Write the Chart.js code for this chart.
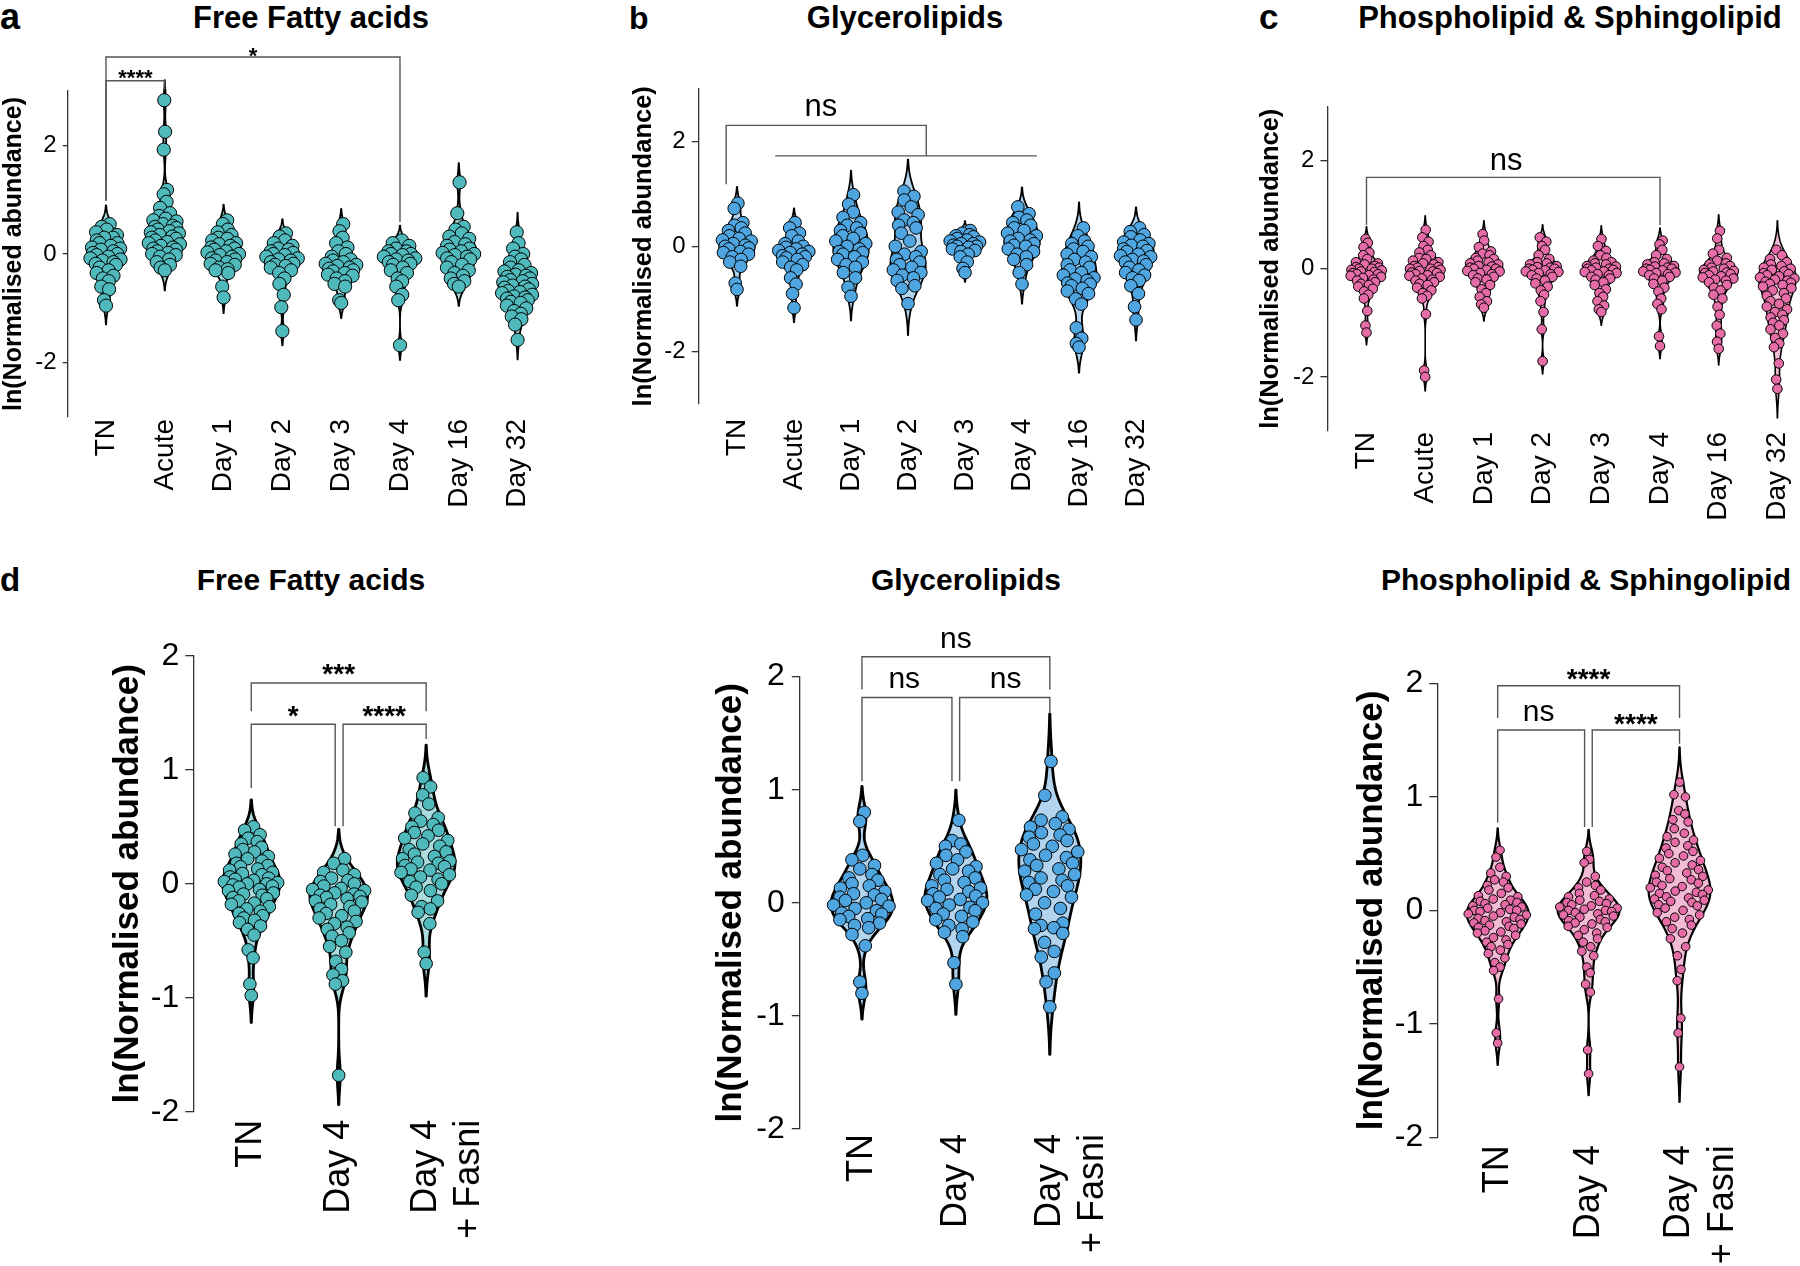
<!DOCTYPE html>
<html>
<head>
<meta charset="utf-8">
<script src="https://cdn.jsdelivr.net/npm/chart.js@4.4.1/dist/chart.umd.min.js"></script>
<style>
html,body{margin:0;padding:0;background:#fff;}
body{width:1800px;height:1266px;position:relative;overflow:hidden;font-family:'Liberation Sans',Arial,Helvetica,sans-serif;}
.txt{position:absolute;font-weight:bold;color:#000;white-space:nowrap;line-height:1;}
canvas{position:absolute;}
</style>
</head>
<body>
<script>
// ---------- categories & tick labels ----------
const catsTime = ['TN','Acute','Day 1','Day 2','Day 3','Day 4','Day 16','Day 32'];
const catsFasn = ['TN','Day 4',['Day 4','+ Fasni']];
const ticksTime = [-2,0,2];
const ticksFasn = [-2,-1,0,1,2];
const yTitle = 'ln(Normalised abundance)';

// ---------- a: Free Fatty acids (time course) ----------
const ffa_TN = [0.55,0.5,0.45,0.4,0.35,0.3,0.3,0.25,0.2,0.2,0.15,0.12,0.1,0.08,0.05,0.02,0.0,-0.02,-0.05,-0.08,-0.1,-0.12,-0.15,-0.18,-0.2,-0.25,-0.3,-0.35,-0.4,-0.45,-0.5,-0.6,-0.65,-0.85,-0.95];
const ffa_Acute = [2.83,2.25,1.92,1.18,1.1,0.96,0.85,0.75,0.7,0.65,0.62,0.6,0.55,0.52,0.5,0.48,0.45,0.42,0.4,0.38,0.35,0.32,0.3,0.28,0.25,0.22,0.2,0.18,0.15,0.12,0.1,0.08,0.05,0.02,0.0,-0.02,-0.05,-0.1,-0.15,-0.2,-0.25,-0.3];
const ffa_D1 = [0.62,0.55,0.45,0.4,0.35,0.3,0.28,0.25,0.2,0.18,0.15,0.12,0.1,0.08,0.05,0.03,0.0,-0.02,-0.05,-0.08,-0.1,-0.12,-0.15,-0.18,-0.2,-0.25,-0.28,-0.3,-0.35,-0.6,-0.8];
const ffa_D2 = [0.38,0.32,0.25,0.2,0.15,0.1,0.08,0.05,0.02,0.0,-0.02,-0.05,-0.08,-0.1,-0.12,-0.15,-0.18,-0.2,-0.22,-0.25,-0.3,-0.35,-0.45,-0.55,-0.75,-0.98,-1.42];
const ffa_D3 = [0.55,0.42,0.3,0.2,0.12,0.05,0.0,-0.05,-0.1,-0.12,-0.15,-0.18,-0.2,-0.22,-0.25,-0.27,-0.3,-0.32,-0.35,-0.38,-0.4,-0.45,-0.5,-0.55,-0.6,-0.85,-0.9];
const ffa_D4 = [0.25,0.2,0.15,0.1,0.05,0.05,0.0,0.0,-0.02,-0.05,-0.08,-0.1,-0.12,-0.15,-0.18,-0.2,-0.25,-0.3,-0.35,-0.45,-0.5,-0.6,-0.75,-0.85,-1.68];
const ffa_D16 = [1.32,0.75,0.5,0.45,0.38,0.32,0.28,0.22,0.18,0.15,0.1,0.08,0.05,0.02,0.0,-0.02,-0.05,-0.08,-0.1,-0.15,-0.2,-0.25,-0.3,-0.35,-0.4,-0.45,-0.5,-0.55,-0.6];
const ffa_D32 = [0.4,0.2,0.1,0.0,-0.05,-0.1,-0.15,-0.2,-0.25,-0.3,-0.32,-0.35,-0.38,-0.4,-0.42,-0.45,-0.48,-0.5,-0.52,-0.55,-0.58,-0.6,-0.62,-0.65,-0.68,-0.7,-0.72,-0.75,-0.78,-0.8,-0.82,-0.85,-0.88,-0.9,-0.95,-1.0,-1.05,-1.1,-1.15,-1.2,-1.3,-1.58];

// ---------- b: Glycerolipids (time course) ----------
const gl_TN = [0.82,0.72,0.45,0.4,0.35,0.3,0.25,0.2,0.15,0.12,0.1,0.05,0.02,0.0,-0.03,-0.05,-0.1,-0.12,-0.15,-0.2,-0.25,-0.3,-0.38,-0.7,-0.82];
const gl_Acute = [0.45,0.35,0.25,0.2,0.1,0.05,0.0,-0.02,-0.05,-0.08,-0.1,-0.12,-0.15,-0.18,-0.2,-0.22,-0.25,-0.3,-0.35,-0.4,-0.45,-0.6,-0.72,-0.9,-1.17];
const gl_D1 = [0.98,0.8,0.65,0.55,0.45,0.4,0.35,0.3,0.25,0.2,0.15,0.1,0.05,0.0,-0.05,-0.1,-0.12,-0.15,-0.2,-0.25,-0.3,-0.35,-0.4,-0.5,-0.6,-0.78,-0.95];
const gl_D2 = [1.05,0.95,0.88,0.75,0.65,0.6,0.5,0.45,0.4,0.35,0.25,0.1,0.0,-0.1,-0.15,-0.2,-0.25,-0.3,-0.35,-0.4,-0.45,-0.5,-0.55,-0.6,-0.65,-0.75,-0.8,-1.09];
const gl_D3 = [0.3,0.25,0.22,0.2,0.18,0.15,0.12,0.1,0.08,0.05,0.05,0.02,0.0,0.0,-0.02,-0.05,-0.08,-0.1,-0.15,-0.2,-0.3,-0.42,-0.5];
const gl_D4 = [0.75,0.62,0.55,0.5,0.45,0.4,0.35,0.3,0.25,0.2,0.15,0.12,0.1,0.05,0.02,0.0,-0.05,-0.1,-0.15,-0.2,-0.25,-0.35,-0.5,-0.72];
const gl_D16 = [0.35,0.2,0.1,0.05,0.0,-0.05,-0.1,-0.15,-0.2,-0.25,-0.3,-0.35,-0.4,-0.45,-0.5,-0.55,-0.6,-0.62,-0.65,-0.7,-0.72,-0.75,-0.8,-0.85,-0.9,-1.0,-1.1,-1.55,-1.75,-1.85,-1.92];
const gl_D32 = [0.35,0.28,0.22,0.18,0.12,0.08,0.05,0.02,0.0,-0.05,-0.08,-0.1,-0.15,-0.18,-0.2,-0.25,-0.28,-0.3,-0.35,-0.4,-0.45,-0.5,-0.55,-0.6,-0.65,-0.75,-0.9,-1.15,-1.4];

// ---------- c: Phospholipid & Sphingolipid (time course) ----------
const pl_TN = [0.55,0.48,0.4,0.3,0.25,0.18,0.12,0.1,0.08,0.05,0.03,0.02,0.0,0.0,-0.02,-0.03,-0.05,-0.06,-0.08,-0.1,-0.1,-0.12,-0.13,-0.15,-0.17,-0.2,-0.22,-0.25,-0.28,-0.3,-0.33,-0.37,-0.42,-0.48,-0.55,-0.78,-1.05,-1.18];
const pl_Acute = [0.72,0.58,0.5,0.42,0.35,0.3,0.25,0.2,0.18,0.15,0.12,0.1,0.08,0.05,0.03,0.02,0.0,0.0,-0.02,-0.04,-0.05,-0.07,-0.08,-0.1,-0.12,-0.13,-0.15,-0.18,-0.2,-0.22,-0.25,-0.28,-0.3,-0.35,-0.4,-0.45,-0.5,-0.55,-0.84,-1.88,-2.0];
const pl_D1 = [0.64,0.52,0.4,0.32,0.28,0.25,0.2,0.18,0.15,0.12,0.1,0.08,0.05,0.04,0.02,0.0,0.0,-0.02,-0.04,-0.05,-0.08,-0.1,-0.12,-0.15,-0.18,-0.2,-0.25,-0.3,-0.38,-0.45,-0.52,-0.6,-0.66,-0.72];
const pl_D2 = [0.58,0.5,0.42,0.35,0.25,0.18,0.12,0.1,0.08,0.05,0.03,0.02,0.0,0.0,-0.02,-0.03,-0.05,-0.06,-0.08,-0.1,-0.12,-0.15,-0.18,-0.22,-0.27,-0.33,-0.4,-0.48,-0.6,-0.8,-1.12,-1.71];
const pl_D3 = [0.55,0.42,0.33,0.25,0.2,0.15,0.12,0.1,0.08,0.05,0.04,0.02,0.0,0.0,-0.02,-0.03,-0.05,-0.06,-0.08,-0.1,-0.12,-0.15,-0.18,-0.2,-0.25,-0.3,-0.38,-0.45,-0.52,-0.6,-0.68,-0.75,-0.8];
const pl_D4 = [0.52,0.45,0.35,0.25,0.18,0.12,0.1,0.08,0.05,0.04,0.02,0.0,0.0,-0.02,-0.03,-0.05,-0.07,-0.08,-0.1,-0.12,-0.15,-0.18,-0.22,-0.28,-0.35,-0.42,-0.55,-0.65,-0.75,-1.25,-1.43];
const pl_D16 = [0.7,0.56,0.35,0.28,0.2,0.15,0.1,0.08,0.05,0.02,0.0,-0.02,-0.04,-0.05,-0.07,-0.08,-0.1,-0.12,-0.14,-0.16,-0.18,-0.2,-0.22,-0.25,-0.3,-0.35,-0.4,-0.48,-0.55,-0.7,-0.85,-1.05,-1.2,-1.35,-1.48];
const pl_D32 = [0.35,0.25,0.18,0.12,0.08,0.05,0.02,0.0,-0.02,-0.05,-0.08,-0.1,-0.12,-0.14,-0.16,-0.18,-0.2,-0.22,-0.24,-0.26,-0.28,-0.3,-0.33,-0.36,-0.4,-0.45,-0.5,-0.55,-0.6,-0.65,-0.7,-0.75,-0.8,-0.85,-0.9,-0.95,-1.0,-1.05,-1.12,-1.2,-1.28,-1.38,-1.45,-1.75,-2.05,-2.22];

// ---------- d: Fasn inhibition ----------
const ffaD_TN = [0.5,0.47,0.43,0.4,0.37,0.35,0.32,0.3,0.28,0.26,0.24,0.22,0.2,0.18,0.16,0.15,0.13,0.12,0.1,0.09,0.08,0.06,0.05,0.04,0.03,0.02,0.01,0.0,0.0,-0.01,-0.02,-0.03,-0.05,-0.06,-0.08,-0.09,-0.1,-0.12,-0.13,-0.15,-0.17,-0.18,-0.2,-0.22,-0.24,-0.26,-0.28,-0.3,-0.32,-0.34,-0.37,-0.4,-0.45,-0.58,-0.65,-0.88,-0.98];
const ffaD_D4 = [0.22,0.18,0.12,0.1,0.08,0.05,0.03,0.02,0.0,-0.02,-0.04,-0.05,-0.06,-0.08,-0.09,-0.1,-0.11,-0.12,-0.13,-0.15,-0.16,-0.18,-0.2,-0.22,-0.24,-0.26,-0.28,-0.3,-0.33,-0.35,-0.38,-0.4,-0.43,-0.46,-0.5,-0.55,-0.6,-0.68,-0.75,-0.8,-0.85,-0.88,-1.68];
const ffaD_Fasni = [0.93,0.85,0.78,0.7,0.62,0.58,0.55,0.52,0.5,0.47,0.45,0.42,0.4,0.38,0.35,0.33,0.3,0.28,0.26,0.24,0.22,0.2,0.19,0.18,0.16,0.15,0.13,0.12,0.1,0.08,0.06,0.04,0.02,0.0,-0.03,-0.06,-0.1,-0.15,-0.2,-0.22,-0.25,-0.35,-0.6,-0.7];
const glD_TN = [0.8,0.72,0.42,0.38,0.33,0.3,0.25,0.22,0.2,0.17,0.15,0.13,0.1,0.08,0.07,0.05,0.03,0.02,0.0,-0.02,-0.03,-0.05,-0.07,-0.09,-0.1,-0.12,-0.14,-0.15,-0.18,-0.2,-0.22,-0.28,-0.38,-0.7,-0.8];
const glD_D4 = [0.73,0.55,0.52,0.5,0.45,0.42,0.38,0.35,0.32,0.3,0.28,0.25,0.22,0.2,0.18,0.15,0.13,0.12,0.1,0.08,0.06,0.05,0.03,0.02,0.0,-0.02,-0.04,-0.05,-0.07,-0.1,-0.12,-0.15,-0.17,-0.2,-0.23,-0.26,-0.3,-0.53,-0.72];
const glD_Fasni = [1.25,0.95,0.76,0.73,0.7,0.67,0.65,0.62,0.6,0.58,0.55,0.52,0.5,0.47,0.45,0.42,0.4,0.38,0.35,0.33,0.3,0.28,0.25,0.22,0.2,0.18,0.15,0.12,0.1,0.07,0.05,0.0,-0.05,-0.1,-0.18,-0.2,-0.22,-0.23,-0.27,-0.35,-0.43,-0.48,-0.62,-0.7,-0.92];
const plD_TN = [0.53,0.47,0.38,0.33,0.3,0.27,0.25,0.22,0.2,0.18,0.15,0.13,0.12,0.1,0.09,0.08,0.07,0.06,0.05,0.04,0.03,0.02,0.01,0.0,0.0,-0.01,-0.02,-0.03,-0.04,-0.05,-0.06,-0.07,-0.08,-0.09,-0.1,-0.11,-0.12,-0.13,-0.14,-0.15,-0.16,-0.18,-0.19,-0.2,-0.22,-0.24,-0.26,-0.28,-0.3,-0.32,-0.35,-0.38,-0.42,-0.46,-0.5,-0.53,-0.78,-1.08,-1.17];
const plD_D4 = [0.52,0.45,0.42,0.3,0.25,0.22,0.2,0.18,0.15,0.13,0.12,0.1,0.09,0.08,0.07,0.06,0.05,0.04,0.03,0.02,0.01,0.0,0.0,-0.01,-0.02,-0.03,-0.04,-0.05,-0.06,-0.08,-0.09,-0.1,-0.11,-0.12,-0.14,-0.15,-0.17,-0.2,-0.22,-0.25,-0.28,-0.32,-0.36,-0.4,-0.5,-0.55,-0.65,-0.72,-1.23,-1.44];
const plD_Fasni = [1.13,1.02,1.0,0.88,0.85,0.8,0.78,0.72,0.68,0.65,0.62,0.6,0.57,0.55,0.52,0.5,0.48,0.46,0.44,0.42,0.4,0.38,0.36,0.35,0.33,0.31,0.3,0.28,0.27,0.25,0.24,0.22,0.21,0.2,0.18,0.17,0.16,0.15,0.14,0.12,0.11,0.1,0.09,0.08,0.07,0.05,0.04,0.02,0.0,-0.02,-0.04,-0.06,-0.08,-0.1,-0.13,-0.16,-0.2,-0.25,-0.32,-0.4,-0.52,-0.62,-0.95,-1.08,-1.38];

// ---------- colours ----------
const TEAL = '#4fb9bc', TEAL_L = '#abdcdd';
const BLUE = '#4ea5df', BLUE_L = '#b3d4ef';
const PINK = '#e66ca8', PINK_L = '#f2bcd5';
const FONT = "'Liberation Sans', Arial, Helvetica, sans-serif";

// ---------- panels ----------
const panels = [
  {cats: catsTime, groups: [ffa_TN,ffa_Acute,ffa_D1,ffa_D2,ffa_D3,ffa_D4,ffa_D16,ffa_D32], ticks: ticksTime, ymin:-3, ymax:3,
   color: TEAL, fill: TEAL_L, box:{left:0, top:0, w:563, h:530}, pt:91, pr:10, yW:67.7, xH:113, xmin:-0.651, xmax:7.602, unitPx:58.8,
   r:6.6, halfW:0.31, lw:1.8, tickFont:24, tickLen:5, tickPad:6, xFont:28, xPad:-6, yTitleSize:25, yTitlePad:2,
   brackets:[[0,1,3.19,0.98,3.03],[0,5,3.625,0.98,0.59]],
   notes:[{x:0.5,y:3.11,t:'****',f:'bold 22px '+FONT},{x:2.5,y:3.515,t:'*',f:'bold 22px '+FONT}]},
  {cats: catsTime, groups: [gl_TN,gl_Acute,gl_D1,gl_D2,gl_D3,gl_D4,gl_D16,gl_D32], ticks: ticksTime, ymin:-3, ymax:3,
   color: BLUE, fill: BLUE_L, box:{left:620, top:0, w:560, h:530}, pt:88.6, pr:10, yW:78.7, xH:126, xmin:-0.672, xmax:7.596, unitPx:57,
   r:6.3, halfW:0.31, lw:1.8, tickFont:24, tickLen:7, tickPad:6, xFont:28, xPad:6.7, yTitleSize:25.5, yTitlePad:11.25,
   brackets:[[-0.19,3.32,2.30,1.18,1.72],[0.67,5.26,1.72,1.72,1.72]],
   notes:[{x:1.47,y:2.475,t:'ns',f:'31px '+FONT}]},
  {cats: catsTime, groups: [pl_TN,pl_Acute,pl_D1,pl_D2,pl_D3,pl_D4,pl_D16,pl_D32], ticks: ticksTime, ymin:-3, ymax:3,
   color: PINK, fill: PINK_L, box:{left:1240, top:0, w:580, h:530}, pt:106.5, pr:20, yW:87.4, xH:99, xmin:-0.666, xmax:7.385, unitPx:58.7,
   r:4.8, halfW:0.32, lw:1.6, tickFont:24, tickLen:7, tickPad:6, xFont:28, xPad:-7, yTitleSize:25.5, yTitlePad:18.25,
   brackets:[[0,5,1.69,0.81,0.81]],
   notes:[{x:2.38,y:1.825,t:'ns',f:'31px '+FONT}]},
  {cats: catsFasn, groups: [ffaD_TN,ffaD_D4,ffaD_Fasni], ticks: ticksFasn, ymin:-2, ymax:2,
   color: TEAL, fill: TEAL_L, box:{left:60, top:540, w:460, h:726}, pt:115.8, pr:40, yW:133.3, xH:154.2, xmin:-0.663, xmax:2.61, unitPx:87.6,
   r:6.3, halfW:0.33, lw:2.8, tickFont:32, tickLen:8, tickPad:6, xFont:36, xPad:0, yTitleSize:35, yTitlePad:50.5,
   brackets:[[0,2,1.762,1.513,1.513],[0,0.96,1.40,0.84,0.504],[1.05,2,1.40,0.504,1.27]],
   notes:[{x:1.0,y:1.759,t:'***',f:'bold 28px '+FONT},{x:0.48,y:1.39,t:'*',f:'bold 28px '+FONT},{x:1.52,y:1.39,t:'****',f:'bold 28px '+FONT}]},
  {cats: catsFasn, groups: [glD_TN,glD_D4,glD_Fasni], ticks: ticksFasn, ymin:-2, ymax:2,
   color: BLUE, fill: BLUE_L, box:{left:680, top:540, w:475, h:726}, pt:136.6, pr:45, yW:119.8, xH:137, xmin:-0.662, xmax:2.641, unitPx:93.9,
   r:6.3, halfW:0.33, lw:2.8, tickFont:32, tickLen:8, tickPad:7, xFont:36, xPad:-3, yTitleSize:35, yTitlePad:33.5,
   brackets:[[0,2,2.175,1.885,1.885],[0,0.958,1.815,1.075,1.075],[1.04,2,1.815,1.075,1.686]],
   notes:[{x:1.0,y:2.25,t:'ns',f:'30px '+FONT},{x:0.45,y:1.895,t:'ns',f:'30px '+FONT},{x:1.53,y:1.895,t:'ns',f:'30px '+FONT}]},
  {cats: catsFasn, groups: [plD_TN,plD_D4,plD_Fasni], ticks: ticksFasn, ymin:-2, ymax:2,
   color: PINK, fill: PINK_L, box:{left:1320, top:540, w:480, h:726}, pt:143.5, pr:45, yW:117.3, xH:128.7, xmin:-0.664, xmax:2.83, unitPx:90.9,
   r:4.3, halfW:0.34, lw:2.2, tickFont:32, tickLen:8, tickPad:6, xFont:36, xPad:0, yTitleSize:35, yTitlePad:34.5,
   brackets:[[0,2,1.98,1.695,1.695],[0,0.956,1.59,0.775,0.735],[1.04,2,1.59,0.735,1.47]],
   notes:[{x:1.0,y:1.96,t:'****',f:'bold 28px '+FONT},{x:0.45,y:1.669,t:'ns',f:'30px '+FONT},{x:1.52,y:1.563,t:'****',f:'bold 28px '+FONT}]}
];

// Titles & panel letters (baseline positions)
const labels = [
  {t:'a', x:0, base:29, fs:36, left:true}, {t:'b', x:629, base:29, fs:32, left:true},
  {t:'c', x:1259, base:29, fs:35, left:true}, {t:'d', x:0, base:591, fs:33, left:true},
  {t:'Free Fatty acids', x:311, base:28, fs:31}, {t:'Glycerolipids', x:905, base:28, fs:31},
  {t:'Phospholipid & Sphingolipid', x:1570, base:28, fs:31},
  {t:'Free Fatty acids', x:311, base:590, fs:30}, {t:'Glycerolipids', x:966, base:590, fs:30},
  {t:'Phospholipid & Sphingolipid', x:1586, base:590, fs:30}
];
labels.forEach(l => {
  const d = document.createElement('div');
  d.className = 'txt';
  d.textContent = l.t;
  d.style.fontSize = l.fs + 'px';
  d.style.top = (l.base - 0.8465 * l.fs) + 'px';
  if (l.left) { d.style.left = l.x + 'px'; }
  else { d.style.left = (l.x - 400) + 'px'; d.style.width = '800px'; d.style.textAlign = 'center'; }
  document.body.appendChild(d);
});

// ---------- helpers: KDE violin + sina layout ----------
function kde(vals, bw, y) { let s = 0; for (const v of vals) { const z = (y - v) / bw; s += Math.exp(-0.5 * z * z); } return s; }
function bandwidth(vals) {
  const n = vals.length, m = vals.reduce((a, b) => a + b, 0) / n;
  const sd = Math.sqrt(vals.reduce((a, b) => a + (b - m) * (b - m), 0) / (n - 1));
  const s = [...vals].sort((a, b) => a - b);
  const q = p => { const h = (n - 1) * p, l = Math.floor(h); return s[l] + (s[Math.min(l + 1, n - 1)] - s[l]) * (h - l); };
  const iqr = q(0.75) - q(0.25);
  const spread = Math.min(sd, iqr / 1.34) || sd;
  return 0.9 * spread * Math.pow(n, -0.2);
}
function vdc(n) { let v = 0, d = 1; while (n) { d *= 2; v += (n & 1) / d; n >>= 1; } return v; }
function layoutGroup(vals, halfW, rUnits) {
  const bw = bandwidth(vals);
  const lo = Math.min(...vals) - 2.2 * bw, hi = Math.max(...vals) + 2.2 * bw;
  const N = 180, shape = [];
  let kmax = 0;
  for (let k = 0; k <= N; k++) { const y = lo + (hi - lo) * k / N; const d = kde(vals, bw, y); shape.push([y, d]); if (d > kmax) kmax = d; }
  shape.forEach(s => { s[1] = s[1] / kmax * halfW; });
  const order = vals.map((v, i) => i).sort((a, b) => vals[a] - vals[b]);
  const off = new Array(vals.length);
  order.forEach((idx, rank) => {
    const u0 = 2 * vdc(rank + 1) - 1;
    const u = Math.sign(u0) * Math.pow(Math.abs(u0), 0.7);
    const w = kde(vals, bw, vals[idx]) / kmax * Math.max(halfW - rUnits * 0.2, 0.05);
    off[idx] = u * w;
  });
  return {shape, off};
}

function violinPlugin(shapes, fill, lw) {
  return {
    id: 'violins',
    beforeDatasetsDraw(chart) {
      const {ctx, scales: {x, y}} = chart;
      shapes.forEach((shape, gi) => {
        ctx.save();
        ctx.beginPath();
        shape.forEach(([yy, w], k) => {
          const px = x.getPixelForValue(gi + w), py = y.getPixelForValue(yy);
          if (k) ctx.lineTo(px, py); else ctx.moveTo(px, py);
        });
        for (let k = shape.length - 1; k >= 0; k--) {
          const [yy, w] = shape[k];
          ctx.lineTo(x.getPixelForValue(gi - w), y.getPixelForValue(yy));
        }
        ctx.closePath();
        ctx.fillStyle = fill; ctx.fill();
        ctx.lineWidth = lw; ctx.lineJoin = 'round'; ctx.strokeStyle = '#000'; ctx.stroke();
        ctx.restore();
      });
    }
  };
}
function annotPlugin(brackets, notes) {
  return {
    id: 'annot',
    afterDatasetsDraw(chart) {
      const {ctx, scales: {x, y}} = chart;
      ctx.save();
      ctx.strokeStyle = '#555'; ctx.lineWidth = 1.4; ctx.lineCap = 'butt';
      brackets.forEach(b => {
        const x1 = x.getPixelForValue(b[0]), x2 = x.getPixelForValue(b[1]), yy = y.getPixelForValue(b[2]);
        ctx.beginPath();
        ctx.moveTo(x1, y.getPixelForValue(b[3])); ctx.lineTo(x1, yy); ctx.lineTo(x2, yy); ctx.lineTo(x2, y.getPixelForValue(b[4]));
        ctx.stroke();
      });
      ctx.fillStyle = '#000'; ctx.textAlign = 'center'; ctx.textBaseline = 'alphabetic';
      notes.forEach(n => { ctx.font = n.f; ctx.fillText(n.t, x.getPixelForValue(n.x), y.getPixelForValue(n.y)); });
      ctx.restore();
    }
  };
}

// ---------- build charts ----------
panels.forEach(p => {
  const cv = document.createElement('canvas');
  cv.width = p.box.w; cv.height = p.box.h;
  cv.style.left = p.box.left + 'px'; cv.style.top = p.box.top + 'px';
  cv.style.width = p.box.w + 'px'; cv.style.height = p.box.h + 'px';
  document.body.appendChild(cv);

  const rUnits = p.r / p.unitPx;
  const lays = p.groups.map(g => layoutGroup(g, p.halfW, rUnits));
  const datasets = p.groups.map((g, gi) => ({
    label: Array.isArray(p.cats[gi]) ? p.cats[gi].join(' ') : p.cats[gi],
    data: g.map((v, k) => ({x: gi + lays[gi].off[k], y: v})),
    pointRadius: p.r, pointBorderWidth: 1, pointBorderColor: '#000', pointBackgroundColor: p.color,
    pointHoverRadius: p.r, showLine: false
  }));

  new Chart(cv, {
    type: 'scatter',
    data: {datasets},
    options: {
      responsive: false, animation: false, devicePixelRatio: 1, events: [],
      layout: {padding: {left: 0, top: p.pt, right: p.pr, bottom: 0}},
      plugins: {legend: {display: false}, tooltip: {enabled: false}, title: {display: false}},
      scales: {
        x: {
          type: 'linear', min: p.xmin, max: p.xmax,
          grid: {display: false}, border: {display: false},
          afterBuildTicks: s => { s.ticks = p.cats.map((c, i) => ({value: i})); },
          afterFit: s => { s.height = p.xH; },
          ticks: {
            autoSkip: false, maxRotation: 90, minRotation: 90, padding: p.xPad, color: '#000',
            font: {family: FONT, size: p.xFont},
            callback: v => (Number.isInteger(v) && p.cats[v] !== undefined) ? p.cats[v] : ''
          }
        },
        y: {
          type: 'linear', min: p.ymin, max: p.ymax,
          afterBuildTicks: s => { s.ticks = p.ticks.map(v => ({value: v})); },
          afterFit: s => { s.width = p.yW; },
          grid: {display: true, drawOnChartArea: false, drawTicks: true, tickLength: p.tickLen, color: '#333', lineWidth: 1.3},
          border: {display: true, color: '#333', width: 1.3},
          ticks: {color: '#000', padding: p.tickPad, font: {family: FONT, size: p.tickFont}},
          title: {display: true, text: yTitle, color: '#000', padding: {top: p.yTitlePad, bottom: 0},
                  font: {family: FONT, size: p.yTitleSize, weight: 'bold', lineHeight: 1}}
        }
      }
    },
    plugins: [violinPlugin(lays.map(l => l.shape), p.fill, p.lw), annotPlugin(p.brackets, p.notes)]
  });
});
</script>
</body>
</html>
